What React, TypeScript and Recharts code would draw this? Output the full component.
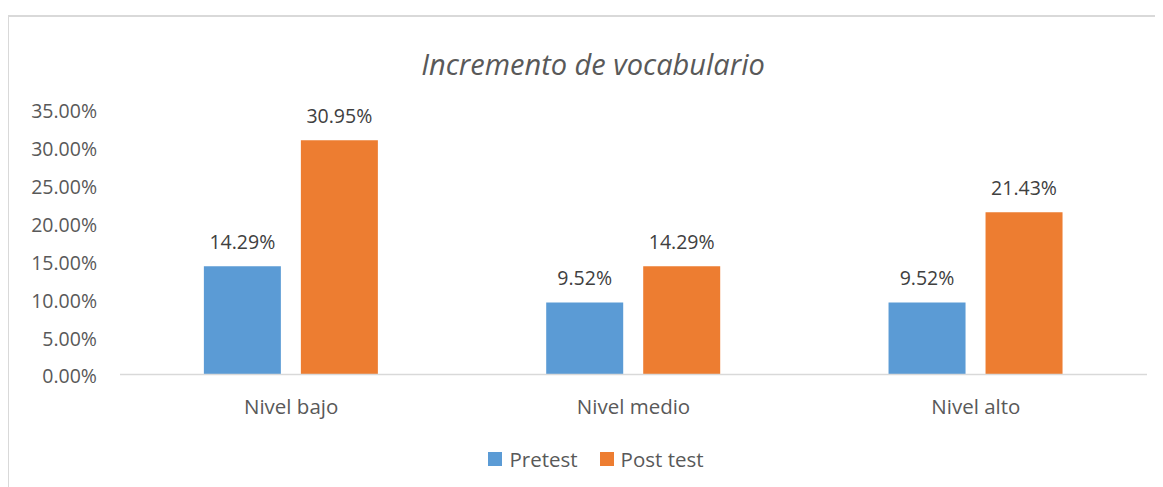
import React from 'react';
import { BarChart, Bar, XAxis, YAxis, Legend, LabelList } from 'recharts';

const categories = ['Nivel bajo', 'Nivel medio', 'Nivel alto'];
const pretest = [14.29, 9.52, 9.52];
const posttest = [30.95, 14.29, 21.43];
const yTicks = [0, 5, 10, 15, 20, 25, 30, 35];
const seriesNames = ['Pretest', 'Post test'];
const colors = ['#5B9BD5', '#ED7D31'];
const title = 'Incremento de vocabulario';

const data = categories.map((c, i) => ({ name: c, pre: pretest[i], post: posttest[i] }));

const FONT = '"Open Sans", sans-serif';
const fmt = (v: number) => `${Number(v).toFixed(2)}%`;

const LegendContent = (props: any) => {
  const payload = [...(props.payload || [])].sort(
    (a: any, b: any) => seriesNames.indexOf(a.value) - seriesNames.indexOf(b.value)
  );
  return (
    <div style={{ display: 'flex', justifyContent: 'center', alignItems: 'center', height: 24, paddingLeft: 21, fontFamily: FONT, fontSize: 20.5, color: '#595959' }}>
      {payload.map((p: any, i: number) => (
        <div key={i} style={{ display: 'flex', alignItems: 'center', marginRight: i === 0 ? 22 : 0 }}>
          <span style={{ display: 'inline-block', width: 14, height: 14, background: p.color, marginRight: 7 }} />
          <span style={{ lineHeight: '24px' }}>{p.value}</span>
        </div>
      ))}
    </div>
  );
};

export default function App() {
  return (
    <div style={{ position: 'relative', width: 1155, height: 479, overflow: 'hidden', background: '#fff' }}>
      <div style={{ position: 'absolute', left: -1, top: 7, width: 1300, height: 600, border: '2px solid #d9d9d9', boxSizing: 'border-box' }} />
      <svg style={{ position: 'absolute', left: 0, top: 0 }} width={1155} height={80}>
        <text x={585} y={67} textAnchor="middle" fontFamily={FONT} fontStyle="italic" fontSize={29} fill="#595959">{title}</text>
      </svg>
      <div style={{ position: 'absolute', left: 0, top: 0 }}>
        <BarChart width={1155} height={479} data={data} margin={{ top: 101.5, right: 16, bottom: 58.5, left: 0 }} barCategoryGap="24.5%" barGap={20}>
          <XAxis dataKey="name" axisLine={{ stroke: '#d9d9d9', strokeWidth: 1.5 }} tickLine={false} tickSize={0} tickMargin={25}
            tick={{ fill: '#595959', fontSize: 20.5, fontFamily: FONT }} />
          <YAxis width={112} domain={[0, 35]} ticks={yTicks} interval={0} axisLine={false} tickLine={false} tickSize={0} tickMargin={23}
            tickFormatter={fmt} tick={{ fill: '#595959', fontSize: 19.5, fontFamily: FONT, dy: 2 }} />
          <Legend verticalAlign="bottom" content={<LegendContent />} wrapperStyle={{ top: 439, bottom: 'auto', left: 0, width: 1155, height: 24 }} />
          <Bar dataKey="pre" name={seriesNames[0]} fill={colors[0]} isAnimationActive={false}>
            <LabelList dataKey="pre" position="top" offset={17} formatter={fmt} fill="#404040" fontSize={19.5} fontFamily={FONT} />
          </Bar>
          <Bar dataKey="post" name={seriesNames[1]} fill={colors[1]} isAnimationActive={false}>
            <LabelList dataKey="post" position="top" offset={17} formatter={fmt} fill="#404040" fontSize={19.5} fontFamily={FONT} />
          </Bar>
        </BarChart>
      </div>
    </div>
  );
}
